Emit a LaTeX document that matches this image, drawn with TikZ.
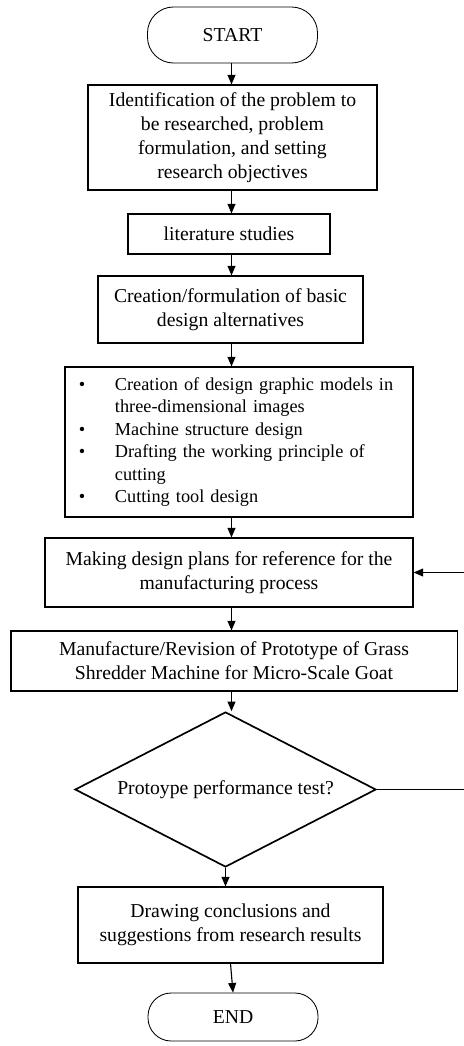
\documentclass[tikz,border=0pt]{standalone}
\usepackage{fontspec}
\setmainfont{Liberation Serif}
\usetikzlibrary{positioning}
\usetikzlibrary{shapes.geometric}
\usetikzlibrary{arrows.meta}
\newcommand{\bulitem}{\makebox[0.95cm][l]{\hspace{0.05cm}\textbullet}}
\newcommand{\bulgap}{\hspace*{0.95cm}}

\begin{document}
\begin{tikzpicture}[x=0.025cm,y=-0.025cm,
 box/.style={draw,line width=0.8pt,align=center,inner sep=2pt,font=\fontsize{14pt}{17pt}\selectfont},
 term/.style={draw,line width=0.6pt,minimum width=4.25cm,font=\fontsize{14pt}{17pt}\selectfont},
 flow/.style={-{Triangle[length=2.4mm,width=2mm]},line width=0.8pt}]
 \useasboundingbox (0,0) rectangle (464,1046);
 \node[term,minimum height=1.4cm,rounded corners=0.65cm] (start) at (232.5,35) {START};
 \node[box,minimum width=7.225cm,minimum height=2.625cm] (ident) at (232.5,137.5) {Identification of the problem to\\be researched, problem\\formulation, and setting\\research objectives};
 \node[box,minimum width=5.05cm,minimum height=1cm] (lit) at (229,234) {literature studies};
 \node[box,minimum width=6.625cm,minimum height=1.675cm] (alt) at (230.5,309.5) {Creation/formulation of basic\\design alternatives};
 \node[box,align=left,inner xsep=0.3cm,text width=8.1cm,minimum height=3.75cm,font=\fontsize{13pt}{16pt}\selectfont] (model) at (239,442) {\bulitem Creation of design graphic models in\\\bulgap three-dimensional images\\\bulitem Machine structure design\\\bulitem Drafting the working principle of\\\bulgap cutting\\\bulitem Cutting tool design};
 \node[box,minimum width=9.2cm,minimum height=1.725cm] (plan) at (229,572.5) {Making design plans for reference for the\\manufacturing process};
 \node[box,minimum width=11.15cm,minimum height=1.5cm] (make) at (234,661) {Manufacture/Revision of Prototype of Grass\\Shredder Machine for Micro-Scale Goat};
 \node[draw,diamond,line width=1.2pt,aspect=2,inner sep=0pt,minimum width=7.525cm,minimum height=3.875cm,font=\fontsize{14pt}{17pt}\selectfont] (test) at (225.5,789.5) {Protoype performance test?};
 \node[box,minimum width=7.625cm,minimum height=1.9cm] (concl) at (230.5,925) {Drawing conclusions and\\suggestions from research results};
 \node[term,minimum height=1.2cm,rounded corners=0.58cm] (end) at (233,1017) {END};
 \coordinate (spine) at (231.5,0);
 \coordinate (loop) at (472,789.5);
 \draw[flow] (spine |- start.south) -- (spine |- ident.north);
 \draw[flow] (spine |- ident.south) -- (spine |- lit.north);
 \draw[flow] (spine |- lit.south) -- (spine |- alt.north);
 \draw[flow] (spine |- alt.south) -- (spine |- model.north);
 \draw[flow] (spine |- model.south) -- (spine |- plan.north);
 \draw[flow] (spine |- plan.south) -- (spine |- make.north);
 \draw[flow] (spine |- make.south) -- (spine |- test.north);
 \draw[flow] (test.south) -- (test.south |- concl.north);
 \draw[flow] (concl.south) -- (end.north);
 \draw[flow] (test.east) -- (loop) |- (plan.east);
\end{tikzpicture}
\end{document}
